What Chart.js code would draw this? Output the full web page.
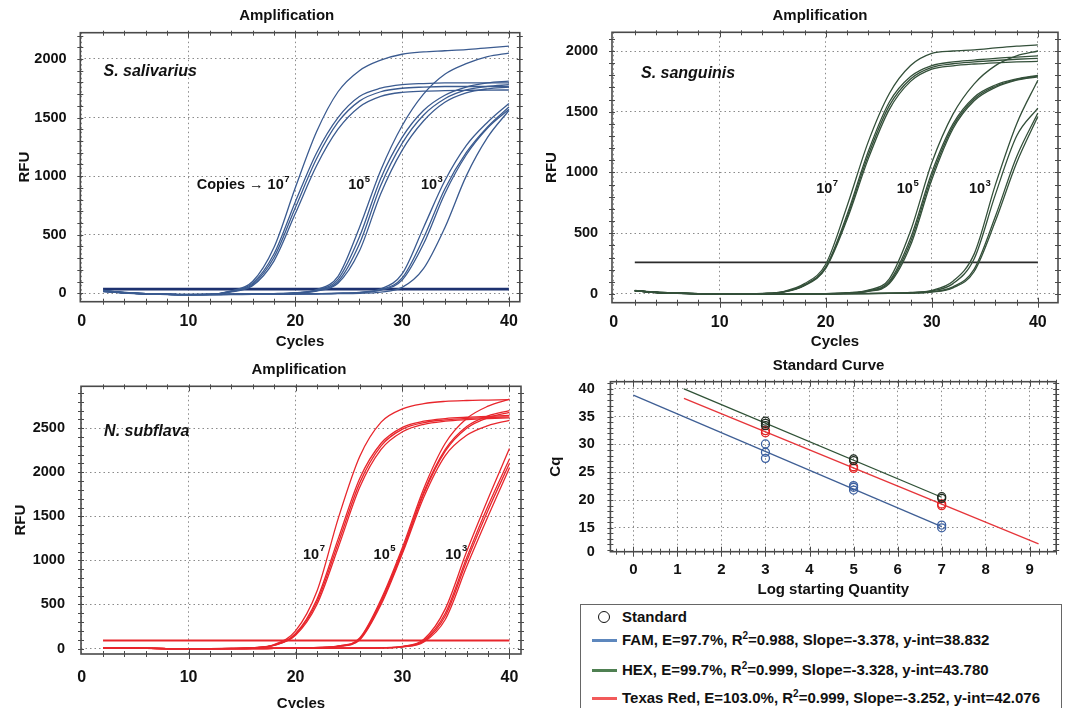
<!DOCTYPE html>
<html>
<head>
<meta charset="utf-8">
<title>qPCR amplification and standard curves</title>
<script src="https://cdn.jsdelivr.net/npm/chart.js@4.4.1/dist/chart.umd.min.js"></script>
<style>
  html, body { margin: 0; padding: 0; background: #fff; }
  body { width: 1070px; height: 708px; position: relative; overflow: hidden;
         font-family: Arial, "Liberation Sans", sans-serif; color: #111; }
  canvas { position: absolute; }
  #legendBox { position: absolute; left: 580px; top: 604px; width: 482px; height: 130px;
               border: 1px solid #666; box-sizing: border-box; }
  .row { position: absolute; left: 0; height: 18px; line-height: 18px; font-size: 15px;
         font-weight: bold; white-space: nowrap; }
  .row .txt { position: absolute; left: 41px; top: 0; }
  .row sup { font-size: 10px; line-height: 0; }
  .swatch { position: absolute; left: 11px; top: 8px; width: 25px; height: 3px; }
  .marker { position: absolute; left: 17px; top: 3px; width: 10px; height: 10px;
            border: 1.6px solid #111; border-radius: 50%; }
</style>
</head>
<body>
<canvas id="salivarius" width="535" height="354" style="left:0;top:0"></canvas>
<canvas id="sanguinis" width="535" height="354" style="left:535px;top:0"></canvas>
<canvas id="subflava" width="535" height="362" style="left:0;top:354px"></canvas>
<canvas id="standard" width="535" height="250" style="left:535px;top:354px"></canvas>

<div id="legendBox">
  <div class="row" style="top:3px"><span class="marker"></span><span class="txt">Standard</span></div>
  <div class="row" style="top:26px"><span class="swatch" style="background:#5d87bd"></span><span class="txt">FAM, E=97.7%, R<sup>2</sup>=0.988, Slope=-3.378, y-int=38.832</span></div>
  <div class="row" style="top:56px"><span class="swatch" style="background:#4f8052"></span><span class="txt">HEX, E=99.7%, R<sup>2</sup>=0.999, Slope=-3.328, y-int=43.780</span></div>
  <div class="row" style="top:84px"><span class="swatch" style="background:#f25a5a"></span><span class="txt">Texas Red, E=103.0%, R<sup>2</sup>=0.999, Slope=-3.252, y-int=42.076</span></div>
</div>

<script>
const cycles = [2, 4, 6, 8, 10, 12, 14, 16, 18, 20, 22, 24, 26, 28, 30, 32, 34, 36, 38, 40];
const ampXTicks = [0, 10, 20, 30, 40];

// S. salivarius (FAM) - RFU per cycle
const sal7a = [25, 8, -3, -8, -10, -8, 20, 100, 390, 900, 1380, 1720, 1900, 1990, 2040, 2060, 2070, 2080, 2095, 2110];
const sal7b = [22, 6, -4, -9, -11, -9, 17, 85, 335, 780, 1200, 1500, 1680, 1750, 1780, 1790, 1795, 1795, 1795, 1795];
const sal7c = [20, 5, -5, -10, -12, -10, 15, 75, 305, 730, 1150, 1460, 1640, 1720, 1750, 1760, 1765, 1765, 1765, 1765];
const sal7d = [18, 4, -5, -10, -12, -10, 12, 65, 275, 680, 1090, 1400, 1590, 1680, 1715, 1725, 1730, 1732, 1734, 1735];
const sal5a = [24, 7, -3, -8, -10, -9, -7, -5, -3, 5, 32, 145, 560, 1050, 1430, 1700, 1870, 1960, 2020, 2050];
const sal5b = [21, 5, -4, -9, -11, -10, -8, -6, -4, 3, 27, 120, 480, 980, 1330, 1560, 1690, 1760, 1795, 1810];
const sal5c = [19, 4, -5, -10, -12, -11, -9, -7, -5, 2, 23, 100, 420, 920, 1280, 1520, 1660, 1735, 1765, 1780];
const sal5d = [17, 3, -5, -10, -12, -11, -9, -7, -5, 1, 19, 85, 360, 850, 1220, 1470, 1630, 1710, 1745, 1760];
const sal3a = [20, 5, -4, -9, -11, -10, -9, -8, -7, -5, -3, 0, 8, 38, 165, 560, 960, 1260, 1460, 1620];
const sal3b = [18, 4, -5, -10, -12, -11, -10, -9, -8, -6, -4, -1, 6, 30, 130, 470, 890, 1200, 1420, 1590];
const sal3c = [16, 3, -5, -10, -12, -11, -10, -9, -8, -6, -4, -1, 5, 26, 112, 420, 850, 1180, 1410, 1570];
const sal3d = [15, 2, -6, -11, -13, -12, -11, -10, -9, -7, -5, -3, 0, 10, 50, 210, 560, 1000, 1330, 1560];
const salThreshold = 35;
const salYTicks = [0, 500, 1000, 1500, 2000];

// S. sanguinis (HEX)
const sang7a = [30, 15, 8, 3, 0, -2, 4, 20, 85, 245, 720, 1250, 1650, 1880, 1980, 2000, 2010, 2025, 2040, 2050];
const sang7b = [28, 14, 7, 2, 0, -2, 3, 17, 75, 222, 650, 1170, 1580, 1790, 1880, 1910, 1925, 1940, 1950, 1960];
const sang7c = [27, 13, 6, 2, -1, -2, 3, 16, 72, 216, 630, 1140, 1550, 1770, 1865, 1895, 1910, 1922, 1932, 1940];
const sang7d = [26, 12, 6, 1, -1, -2, 2, 15, 68, 210, 610, 1110, 1520, 1750, 1850, 1878, 1893, 1903, 1910, 1915];
const sang5a = [28, 14, 7, 2, 0, -2, -2, -1, 0, 3, 10, 32, 125, 520, 1080, 1480, 1730, 1880, 1960, 2000];
const sang5b = [27, 13, 6, 2, -1, -2, -2, -1, 0, 2, 8, 27, 105, 460, 1000, 1400, 1620, 1720, 1770, 1800];
const sang5c = [26, 12, 6, 1, -1, -2, -2, -1, 0, 2, 7, 24, 95, 430, 970, 1380, 1605, 1710, 1765, 1795];
const sang5d = [25, 12, 5, 1, -1, -2, -2, -1, 0, 1, 6, 21, 85, 400, 940, 1360, 1590, 1700, 1760, 1788];
const sang3a = [28, 14, 7, 2, 0, -2, -2, -1, 0, 1, 2, 4, 7, 12, 30, 105, 330, 900, 1400, 1760];
const sang3b = [27, 13, 6, 2, -1, -2, -2, -1, 0, 1, 2, 3, 6, 10, 25, 85, 290, 820, 1300, 1530];
const sang3c = [26, 12, 6, 1, -1, -2, -2, -1, 0, 1, 2, 3, 5, 8, 18, 58, 205, 640, 1130, 1490];
const sang3d = [25, 12, 5, 1, -1, -2, -2, -1, 0, 1, 1, 2, 4, 7, 15, 50, 185, 600, 1080, 1460];
const sangThreshold = 260;
const sangYTicks = [0, 500, 1000, 1500, 2000];

// N. subflava (Texas Red)
const sub7a = [10, 5, 2, 0, 0, 0, 2, 10, 45, 200, 650, 1480, 2180, 2570, 2720, 2780, 2805, 2815, 2820, 2825];
const sub7b = [10, 5, 2, 0, 0, 0, 2, 9, 40, 170, 560, 1250, 1930, 2330, 2510, 2580, 2610, 2625, 2635, 2645];
const sub7c = [9, 4, 2, 0, 0, 0, 1, 8, 38, 160, 530, 1200, 1880, 2300, 2490, 2565, 2595, 2612, 2622, 2630];
const sub7d = [9, 4, 1, 0, 0, 0, 1, 7, 35, 150, 500, 1150, 1830, 2260, 2460, 2545, 2580, 2598, 2610, 2618];
const sub5a = [10, 5, 2, 0, 0, 0, 0, 1, 3, 6, 12, 30, 120, 560, 1150, 1820, 2330, 2610, 2750, 2830];
const sub5b = [10, 5, 2, 0, 0, 0, 0, 1, 3, 5, 11, 27, 112, 540, 1120, 1780, 2260, 2520, 2640, 2700];
const sub5c = [9, 4, 2, 0, 0, 0, 0, 1, 2, 5, 10, 25, 105, 520, 1100, 1760, 2240, 2500, 2620, 2680];
const sub5d = [9, 4, 1, 0, 0, 0, 0, 1, 2, 4, 9, 23, 98, 500, 1080, 1720, 2190, 2420, 2530, 2590];
const sub3a = [10, 5, 2, 0, 0, 0, 0, 0, 1, 2, 3, 4, 6, 9, 25, 105, 450, 1100, 1700, 2270];
const sub3b = [10, 5, 2, 0, 0, 0, 0, 0, 1, 2, 3, 4, 5, 8, 22, 92, 400, 1030, 1620, 2150];
const sub3c = [9, 4, 2, 0, 0, 0, 0, 0, 1, 2, 3, 4, 5, 8, 20, 84, 370, 990, 1570, 2100];
const sub3d = [9, 4, 1, 0, 0, 0, 0, 0, 1, 1, 2, 3, 4, 7, 18, 75, 330, 930, 1500, 2050];
const subThreshold = 90;
const subYTicks = [0, 500, 1000, 1500, 2000, 2500];

// Standard curve: Cq vs log starting quantity
const famLogQ = [3, 3, 3, 5, 5, 5, 7, 7];
const famCq = [30.1, 28.6, 27.5, 22.6, 22.3, 21.8, 15.5, 15.0];
const hexLogQ = [3, 3, 3, 5, 5, 7, 7];
const hexCq = [34.2, 33.8, 33.4, 27.4, 27.1, 20.6, 20.3];
const redLogQ = [3, 3, 5, 5, 7, 7];
const redCq = [32.5, 32.1, 26.0, 25.7, 19.3, 19.0];
const famFitX = [0, 7], famFitCq = [38.9, 15.2];
const hexFitX = [1.15, 7], hexFitCq = [40.0, 20.5];
const redFitX = [1.15, 9.2], redFitCq = [38.3, 12.1];
const stdXTicks = [0, 1, 2, 3, 4, 5, 6, 7, 8, 9];
const stdYTicks = [10.7, 15, 20, 25, 30, 35, 40];
const stdYLabels = ['0', '15', '20', '25', '30', '35', '40'];

Chart.defaults.font.family = 'Arial, "Liberation Sans", sans-serif';
Chart.defaults.color = '#111';
const FONT = 'Arial, "Liberation Sans", sans-serif';

// free text: titles (canvas px) and annotations (data coords), optional superscript
const panelText = {
  id: 'panelText',
  afterDraw(chart, args, opts) {
    const ctx = chart.ctx;
    (opts.items || []).forEach(it => {
      let x = it.x, y = it.y;
      if (it.data) {
        x = chart.scales.x.getPixelForValue(it.x);
        y = chart.scales.y.getPixelForValue(it.y);
      }
      ctx.save();
      ctx.fillStyle = '#111';
      ctx.font = it.font;
      ctx.textAlign = it.align || 'left';
      ctx.textBaseline = 'middle';
      ctx.fillText(it.text, x, y);
      if (it.sup) {
        const w = ctx.measureText(it.text).width;
        ctx.font = 'bold 9.5px ' + FONT;
        ctx.textAlign = 'left';
        ctx.fillText(it.sup, x + w + 0.5, y - 6);
      }
      ctx.restore();
    });
  }
};

// plot frame with small ticks on every edge
const frameTicks = {
  id: 'frameTicks',
  afterDatasetsDraw(chart, args, o) {
    const {ctx, chartArea: a, scales: {x, y}} = chart;
    ctx.save();
    ctx.strokeStyle = '#4a4a4a';
    ctx.lineWidth = 1;
    ctx.beginPath();
    for (let v = o.xFrom; v <= o.xTo + 1e-6; v += o.xStep) {
      const px = Math.round(x.getPixelForValue(v)) + 0.5;
      const big = Math.abs(v / o.xMajor - Math.round(v / o.xMajor)) < 1e-6 ? 2 : 0;
      ctx.moveTo(px, a.bottom - 3 - big); ctx.lineTo(px, a.bottom + 3 + big);
      ctx.moveTo(px, a.top - 2); ctx.lineTo(px, a.top + 3 + big);
    }
    for (let v = o.yFrom; v <= o.yTo + 1e-6; v += o.yStep) {
      const py = Math.round(y.getPixelForValue(v)) + 0.5;
      ctx.moveTo(a.left - 3, py); ctx.lineTo(a.left + 3, py);
      ctx.moveTo(a.right - 3, py); ctx.lineTo(a.right + 3, py);
    }
    ctx.stroke();
    ctx.lineWidth = 1.6;
    ctx.strokeRect(a.left, a.top, a.right - a.left, a.bottom - a.top);
    ctx.restore();
  }
};

function curve(vals, color) {
  return {
    data: cycles.map((c, i) => ({x: c, y: vals[i]})),
    borderColor: color, borderWidth: 1.3, pointRadius: 0,
    cubicInterpolationMode: 'monotone', fill: false
  };
}

function flatLine(level, color, width) {
  return {
    data: [{x: cycles[0], y: level}, {x: cycles[cycles.length - 1], y: level}],
    borderColor: color, borderWidth: width, pointRadius: 0, fill: false
  };
}

const boldFont = size => ({size: size, weight: 'bold'});
const dotted = {display: false, dash: [1.5, 3]};

function ampChart(id, c) {
  return new Chart(document.getElementById(id), {
    type: 'line',
    data: {datasets: c.datasets},
    plugins: [panelText, frameTicks],
    options: {
      responsive: false,
      animation: false,
      layout: {padding: {left: 0, right: c.padRight, top: c.padTop, bottom: 0}},
      plugins: {
        legend: {display: false},
        tooltip: {enabled: false},
        panelText: {items: c.text},
        frameTicks: {xFrom: 2, xTo: 40, xStep: 2, xMajor: 10, yFrom: 0, yTo: c.yMax, yStep: 100}
      },
      scales: {
        x: {
          type: 'linear', min: c.xMin, max: c.xMax,
          afterBuildTicks: s => { s.ticks = ampXTicks.map(v => ({value: v})); },
          afterFit: s => { s.height = c.xHeight; },
          ticks: {font: boldFont(16), color: '#111', padding: c.xTickPad, maxRotation: 0, autoSkip: false,
                  callback: v => String(v)},
          grid: {color: '#8a8a8a', lineWidth: 1, drawTicks: false},
          border: dotted,
          title: {display: true, text: 'Cycles', font: boldFont(15), color: '#111',
                  padding: {top: 0, bottom: c.xTitlePad}}
        },
        y: {
          type: 'linear', min: c.yMin, max: c.yMax,
          afterBuildTicks: s => { s.ticks = c.yTicks.map(v => ({value: v})); },
          afterFit: s => { s.width = c.yWidth; },
          ticks: {font: boldFont(14.5), color: '#111', padding: c.yTickPad, autoSkip: false,
                  callback: v => String(v)},
          grid: {color: '#8a8a8a', lineWidth: 1, drawTicks: false},
          border: dotted,
          title: {display: true, text: 'RFU', font: boldFont(15), color: '#111',
                  padding: {top: c.yTitlePad, bottom: 0}}
        }
      }
    }
  });
}

const blue = '#3b5b90', navy = '#1d3270';
ampChart('salivarius', {
  datasets: [sal7a, sal7b, sal7c, sal7d, sal5a, sal5b, sal5c, sal5d, sal3a, sal3b, sal3c, sal3d]
    .map(v => curve(v, blue)).concat([flatLine(salThreshold, navy, 2.6)]),
  xMin: -0.13, xMax: 41.02, yMin: -72, yMax: 2224, yTicks: salYTicks,
  padRight: 15.2, padTop: 32.7, xHeight: 52.3, yWidth: 80.3,
  xTickPad: 10.4, xTitlePad: 3.3, yTickPad: 13.7, yTitlePad: 15.6,
  text: [
    {text: 'Amplification', x: 286.7, y: 16, font: 'bold 15px ' + FONT, align: 'center'},
    {text: 'S. salivarius', data: true, x: 2.04, y: 1892, font: 'italic bold 16px ' + FONT},
    {text: 'Copies \u2192 10', sup: '7', data: true, x: 10.77, y: 925, font: 'bold 14.5px ' + FONT},
    {text: '10', sup: '5', data: true, x: 24.95, y: 925, font: 'bold 14.5px ' + FONT},
    {text: '10', sup: '3', data: true, x: 31.76, y: 925, font: 'bold 14.5px ' + FONT}
  ]
});

const green = '#34503a';
ampChart('sanguinis', {
  datasets: [sang7a, sang7b, sang7c, sang7d, sang5a, sang5b, sang5c, sang5d, sang3a, sang3b, sang3c, sang3d]
    .map(v => curve(v, green)).concat([flatLine(sangThreshold, '#2b2b2b', 1.7)]),
  xMin: -0.15, xMax: 41.9, yMin: -72, yMax: 2154, yTicks: sangYTicks,
  padRight: 12, padTop: 32.3, xHeight: 51.3, yWidth: 77,
  xTickPad: 10.4, xTitlePad: 3.3, yTickPad: 13.9, yTitlePad: 7.4,
  text: [
    {text: 'Amplification', x: 285, y: 16, font: 'bold 15px ' + FONT, align: 'center'},
    {text: 'S. sanguinis', data: true, x: 2.58, y: 1811, font: 'italic bold 16px ' + FONT},
    {text: '10', sup: '7', data: true, x: 19.1, y: 861, font: 'bold 14.5px ' + FONT},
    {text: '10', sup: '5', data: true, x: 26.7, y: 861, font: 'bold 14.5px ' + FONT},
    {text: '10', sup: '3', data: true, x: 33.5, y: 861, font: 'bold 14.5px ' + FONT}
  ]
});

const red = '#e8262c';
ampChart('subflava', {
  datasets: [sub7a, sub7b, sub7c, sub7d, sub5a, sub5b, sub5c, sub5d, sub3a, sub3b, sub3c, sub3d]
    .map(v => curve(v, red)).concat([flatLine(subThreshold, red, 2)]),
  xMin: -0.06, xMax: 41.08, yMin: -62, yMax: 2976, yTicks: subYTicks,
  padRight: 14, padTop: 32.3, xHeight: 62, yWidth: 81,
  xTickPad: 13.7, xTitlePad: 3, yTickPad: 16, yTitlePad: 11.5,
  text: [
    {text: 'Amplification', x: 299, y: 15.7, font: 'bold 15px ' + FONT, align: 'center'},
    {text: 'N. subflava', data: true, x: 2.1, y: 2466, font: 'italic bold 16px ' + FONT},
    {text: '10', sup: '7', data: true, x: 20.7, y: 1063, font: 'bold 14.5px ' + FONT},
    {text: '10', sup: '5', data: true, x: 27.3, y: 1063, font: 'bold 14.5px ' + FONT},
    {text: '10', sup: '3', data: true, x: 34.0, y: 1063, font: 'bold 14.5px ' + FONT}
  ]
});

// standard curve
function points(xs, ys, color) {
  return {
    data: xs.map((v, i) => ({x: v, y: ys[i]})),
    showLine: false, pointStyle: 'circle', pointRadius: 4, pointBorderWidth: 1.3,
    pointBorderColor: color, pointBackgroundColor: 'rgba(0,0,0,0)'
  };
}
function fit(xs, ys, color) {
  return {
    data: xs.map((v, i) => ({x: v, y: ys[i]})),
    showLine: true, pointRadius: 0, borderColor: color, borderWidth: 1.3
  };
}

new Chart(document.getElementById('standard'), {
  type: 'scatter',
  data: {
    datasets: [
      points(hexLogQ, hexCq, '#1f2b20'),
      points(redLogQ, redCq, '#e32222'),
      points(famLogQ, famCq, '#3b5fa0'),
      fit(hexFitX, hexFitCq, '#2f5236'),
      fit(redFitX, redFitCq, '#e6353a'),
      fit(famFitX, famFitCq, '#3f5f95')
    ]
  },
  plugins: [panelText, frameTicks],
  options: {
    responsive: false,
    animation: false,
    layout: {padding: {left: 0, right: 13.8, top: 27.7, bottom: 0}},
    plugins: {
      legend: {display: false},
      tooltip: {enabled: false},
      panelText: {items: [
        {text: 'Standard Curve', x: 293.5, y: 12.3, font: 'bold 15px ' + FONT, align: 'center'}
      ]},
      frameTicks: {xFrom: -0.4, xTo: 9.6, xStep: 0.2, xMajor: 1, yFrom: 11, yTo: 41, yStep: 1}
    },
    scales: {
      x: {
        type: 'linear', min: -0.52, max: 9.6,
        afterBuildTicks: s => { s.ticks = stdXTicks.map(v => ({value: v})); },
        afterFit: s => { s.height = 52.3; },
        ticks: {font: boldFont(15), color: '#111', padding: 9.3, maxRotation: 0, autoSkip: false,
                callback: v => String(v)},
        grid: {color: '#8a8a8a', lineWidth: 1, drawTicks: false},
        border: dotted,
        title: {display: true, text: 'Log starting Quantity', font: boldFont(15), color: '#111',
                padding: {top: 0, bottom: 5}}
      },
      y: {
        type: 'linear', min: 10.7, max: 41.3,
        afterBuildTicks: s => { s.ticks = stdYTicks.map(v => ({value: v})); },
        afterFit: s => { s.width = 75.4; },
        ticks: {font: boldFont(14.5), color: '#111', padding: 15.7, autoSkip: false,
                callback: (v, i) => stdYLabels[i]},
        grid: {color: '#8a8a8a', lineWidth: 1, drawTicks: false},
        border: dotted,
        title: {display: true, text: 'Cq', font: boldFont(15), color: '#111',
                padding: {top: 12.2, bottom: 0}}
      }
    }
  }
});
</script>
</body>
</html>
